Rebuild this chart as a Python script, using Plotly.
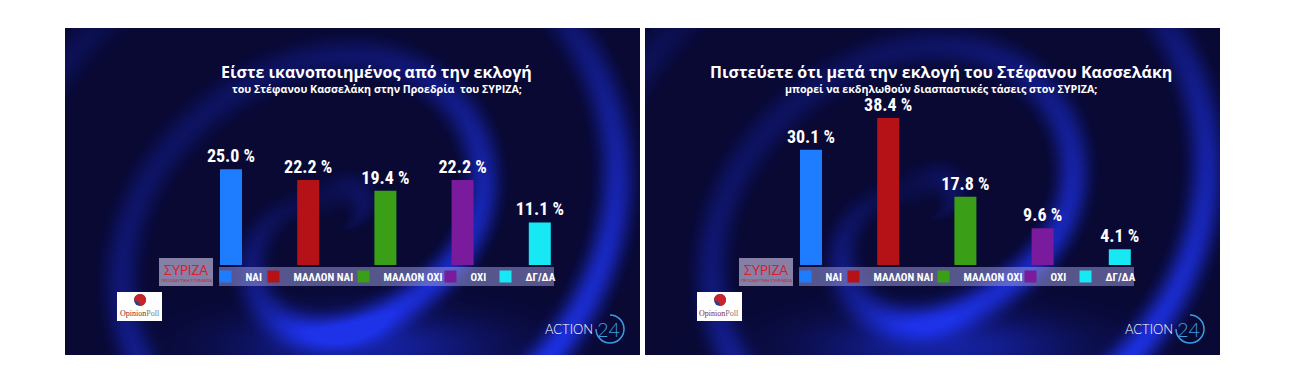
import base64, struct, zlib
import numpy as np
import plotly.graph_objects as go

# ---------------- data ----------------
categories = ["ΝΑΙ", "ΜΑΛΛΟΝ ΝΑΙ", "ΜΑΛΛΟΝ ΟΧΙ", "ΟΧΙ", "ΔΓ/ΔΑ"]
left_values = [25.0, 22.2, 19.4, 22.2, 11.1]
right_values = [30.1, 38.4, 17.8, 9.6, 4.1]
left_title = "Είστε ικανοποιημένος από την εκλογή"
left_subtitle = "του Στέφανου Κασσελάκη στην Προεδρία  του ΣΥΡΙΖΑ;"
right_title = "Πιστεύετε ότι μετά την εκλογή του Στέφανου Κασσελάκη"
right_subtitle = "μπορεί να εκδηλωθούν διασπαστικές τάσεις στον ΣΥΡΙΖΑ;"

# ---------------- styles ----------------
colors = ["#1e7dff", "#b51218", "#3a9e17", "#7a1a9c", "#17e8f4"]
legend_widths = [3, 45, 42, 10, 40]
W, H = 1290, 383
COND = "Roboto Condensed, Liberation Sans Narrow, DejaVu Sans Condensed, Arial Narrow, sans-serif"
TITLE_FONT = "Open Sans, Noto Sans, sans-serif"


def px(x):
    return x / W


def py(y):
    return 1 - y / H


def png_uri(arr):
    h, w, _ = arr.shape
    raw = b"".join(b"\x00" + arr[r].tobytes() for r in range(h))

    def chunk(t, d):
        c = struct.pack(">I", len(d)) + t + d
        return c + struct.pack(">I", zlib.crc32(t + d) & 0xFFFFFFFF)

    png = (b"\x89PNG\r\n\x1a\n"
           + chunk(b"IHDR", struct.pack(">IIBBBBB", w, h, 8, 2, 0, 0, 0))
           + chunk(b"IDAT", zlib.compress(raw, 9))
           + chunk(b"IEND", b""))
    return "data:image/png;base64," + base64.b64encode(png).decode()


def swirl(w, h, cx, cy):
    yy, xx = np.mgrid[0:h, 0:w].astype(float)
    dx = xx - cx
    dy = yy - cy
    r = np.hypot(dx, dy)
    th = np.arctan2(dy, dx)
    phase = 2 * np.pi * r / (0.24 * w) + 1.0 * th + 0.8 * np.sin(2 * th)
    band = np.clip(np.cos(phase), 0, 1) ** 3
    ang = 0.4 + 0.6 * (0.5 + 0.5 * np.cos(th - 0.3))
    core = np.clip(r / (0.16 * w), 0, 1)
    vert = 0.4 + 0.6 * (yy / h) ** 0.7
    b = 0.9 * band * ang * core * vert
    glow = np.exp(-((xx - 0.52 * w) ** 2 / (0.22 * w) ** 2 + (yy - 0.97 * h) ** 2 / (0.10 * h) ** 2))
    b = np.clip(b + 0.6 * glow, 0, 1)
    base = np.array([9, 9, 52], float)
    hi = np.array([30, 50, 232], float)
    img = base + (hi - base) * b[..., None]
    return img.clip(0, 255).astype(np.uint8)


panel_w, panel_h = 575, 327
bg_left = png_uri(swirl(288, 164, 135, 100))
bg_right = png_uri(swirl(288, 164, 140, 95))

fig = go.Figure()

for i, cat in enumerate(categories):
    fig.add_trace(go.Bar(
        x=[cat], y=[left_values[i]], name=cat, marker_color=colors[i],
        marker_line_width=0,
        width=0.285, text=[f"{left_values[i]:.1f} %"], textposition="outside",
        constraintext="none", cliponaxis=False,
        textfont=dict(color="white", size=18, family=COND, weight="bold"),
        legend="legend", legendwidth=legend_widths[i], xaxis="x", yaxis="y"))
for i, cat in enumerate(categories):
    fig.add_trace(go.Bar(
        x=[cat], y=[right_values[i]], name=cat, marker_color=colors[i],
        marker_line_width=0,
        width=0.285, text=[f"{right_values[i]:.1f} %"], textposition="outside",
        constraintext="none", cliponaxis=False,
        textfont=dict(color="white", size=18, family=COND, weight="bold"),
        legend="legend2", legendwidth=legend_widths[i], xaxis="x2", yaxis="y2"))

axis_off = dict(showgrid=False, zeroline=False, showticklabels=False, showline=False, ticks="")
ydom = [py(265), py(265 - 40 * 3.83)]

legend_style = dict(orientation="h", xanchor="left", yanchor="middle",
                    bgcolor="rgba(0,0,0,0)", borderwidth=0,
                    font=dict(color="white", size=11, family=COND, weight="bold"),
                    itemwidth=30, tracegroupgap=0)

fig.update_layout(
    width=W, height=H, margin=dict(l=0, r=0, t=0, b=0),
    paper_bgcolor="white", plot_bgcolor="rgba(0,0,0,0)",
    barmode="overlay", showlegend=True,
    xaxis=dict(domain=[px(192.4), px(578.4)], range=[-0.5, 4.5], **axis_off),
    yaxis=dict(domain=ydom, range=[0, 40], **axis_off),
    xaxis2=dict(domain=[px(772.4), px(1158.4)], range=[-0.5, 4.5], anchor="y2", **axis_off),
    yaxis2=dict(domain=ydom, range=[0, 40], anchor="x2", **axis_off),
    legend=dict(x=px(205.5), y=py(276.5), **legend_style),
    legend2=dict(x=px(785.5), y=py(276.5), **legend_style),
)

shapes = []
annotations = []
images = []


def ann(text, x, y, **font):
    return dict(text=text, x=px(x), y=py(y), xref="paper", yref="paper", showarrow=False,
                xanchor="center", yanchor="middle", font=font)


for off, bg, tcx, title, sub in [(0, bg_left, 377, left_title, left_subtitle),
                                  (580, bg_right, 941, right_title, right_subtitle)]:
    images.append(dict(source=bg, xref="paper", yref="paper", x=px(65 + off), y=py(28),
                       sizex=panel_w / W, sizey=panel_h / H, sizing="stretch",
                       xanchor="left", yanchor="top", layer="below"))
    # legend strip
    shapes.append(dict(type="rect", xref="paper", yref="paper", layer="below",
                       x0=px(219 + off), x1=px(554 + off), y0=py(286), y1=py(267),
                       fillcolor="rgba(150,150,215,0.55)", line_width=0))
    # ΣΥΡΙΖΑ box
    shapes.append(dict(type="rect", xref="paper", yref="paper", layer="above",
                       x0=px(159 + off), x1=px(213 + off), y0=py(286), y1=py(258),
                       fillcolor="rgba(185,175,210,0.72)", line_width=0))
    annotations.append(ann("ΣΥΡΙΖΑ", 186 + off, 270, color="#d8202c", size=13, family="Lato, sans-serif"))
    annotations.append(ann("ΠΡΟΟΔΕΥΤΙΚΗ ΣΥΜΜΑΧΙΑ", 186 + off, 280, color="#c02030", size=4, family="Lato, sans-serif"))
    # OpinionPoll box
    shapes.append(dict(type="rect", xref="paper", yref="paper", layer="above",
                       x0=px(117 + off), x1=px(162 + off), y0=py(321), y1=py(292),
                       fillcolor="white", line_width=0))
    shapes.append(dict(type="circle", xref="paper", yref="paper", layer="above",
                       x0=px(134 + off), x1=px(146 + off), y0=py(306), y1=py(294),
                       fillcolor="#2b3f8f", line_width=0))
    shapes.append(dict(type="path", xref="paper", yref="paper", layer="above",
                       path=(f"M{px(140 + off)},{py(294)} C{px(144 + off)},{py(294)} {px(146 + off)},{py(297)} "
                             f"{px(146 + off)},{py(300)} C{px(146 + off)},{py(303)} {px(143 + off)},{py(306)} "
                             f"{px(140 + off)},{py(306)} C{px(141 + off)},{py(303)} {px(137 + off)},{py(301)} "
                             f"{px(134 + off)},{py(300)} C{px(134 + off)},{py(297)} {px(137 + off)},{py(294)} "
                             f"{px(140 + off)},{py(294)} Z"),
                       fillcolor="#c8252a", line_width=0))
    annotations.append(ann("<span style='color:#8e1c1c'>Opinion</span><span style='color:#777'>Poll</span>",
                           139.5 + off, 313, size=8, family="Liberation Serif, DejaVu Serif, serif"))
    # ACTION 24
    annotations.append(ann("ACTION", 569 + off, 329, color="white", size=13, family="Lato, sans-serif", weight=300))
    annotations.append(ann("24", 608 + off, 329, color="#3e9be2", size=20, family="Lato, sans-serif", weight=300))
    cx, cy, rr = 610 + off, 329, 14
    k = 0.5523 * rr
    shapes.append(dict(type="path", xref="paper", yref="paper", layer="above",
                       path=(f"M{px(cx)},{py(cy - rr)} C{px(cx + k)},{py(cy - rr)} {px(cx + rr)},{py(cy - k)} {px(cx + rr)},{py(cy)} "
                             f"C{px(cx + rr)},{py(cy + k)} {px(cx + k)},{py(cy + rr)} {px(cx)},{py(cy + rr)} "
                             f"C{px(cx - k)},{py(cy + rr)} {px(cx - rr)},{py(cy + k)} {px(cx - rr)},{py(cy)}"),
                       line=dict(color="#3e9be2", width=1.5)))
    # titles
    annotations.append(ann(title, tcx, 72, color="white", size=16, family=TITLE_FONT, weight="bold"))
    annotations.append(ann(sub, tcx, 89, color="white", size=10.7, family=TITLE_FONT, weight="bold"))

fig.update_layout(shapes=shapes, annotations=annotations, images=images)
fig.write_html("out.html", config={"displayModeBar": False},
               post_script="document.body.style.margin='0';document.body.style.padding='0';")
